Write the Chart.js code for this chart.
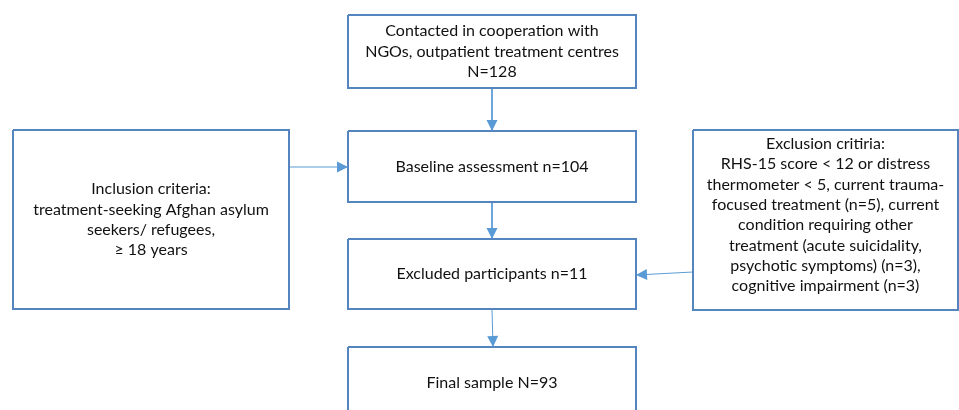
<!DOCTYPE html>
<html>
<head>
<meta charset="utf-8">
<script src="https://cdn.jsdelivr.net/npm/chart.js@4"></script>
<style>
  html, body { margin: 0; padding: 0; background: #ffffff; }
  #wrap { width: 959px; height: 410px; }
</style>
</head>
<body>
<div id="wrap"><canvas id="flow"></canvas></div>
<script>
// flow data
const stepTitles = ['Contacted in cooperation with\nNGOs, outpatient treatment centres', 'Baseline assessment', 'Excluded participants', 'Final sample'];
const stepPrefix = ['N', 'n', 'n', 'N'];
const stepCounts = [128, 104, 11, 93];
const exclusionCounts = [5, 3, 3];
const minAge = 18;

// box text
const labels = [
    `${stepTitles[0]}\n${stepPrefix[0]}=${stepCounts[0]}`,
    `${stepTitles[1]} ${stepPrefix[1]}=${stepCounts[1]}`,
    `${stepTitles[2]} ${stepPrefix[2]}=${stepCounts[2]}`,
    `${stepTitles[3]} ${stepPrefix[3]}=${stepCounts[3]}`,
    `Inclusion criteria:\ntreatment-seeking Afghan asylum\nseekers/ refugees,\n\u2265 ${minAge} years`,
    `Exclusion critiria:\nRHS-15 score < 12 or distress\nthermometer < 5, current trauma-\nfocused treatment (n=${exclusionCounts[0]}), current\ncondition requiring other\ntreatment (acute suicidality,\npsychotic symptoms) (n=${exclusionCounts[1]}),\ncognitive impairment (n=${exclusionCounts[2]})`
];

// layout (axis units) : x0, x1, y0, y1, text offset
const boxes = [
    [348, 636, 15, 88, 0],
    [348, 636, 131, 202, 0],
    [348, 636, 239, 309, 0],
    [348, 636, 347, 430, -6],
    [13, 289, 130, 309, 0],
    [693, 958, 130, 310, -5]
];
const arrows = [
    [492, 88, 492, 131],
    [289, 167, 348, 167],
    [492, 202, 492, 239],
    [693, 272, 636, 275],
    [492, 309, 493, 347]
];

const boxColor = '#5585be';
const arrowColor = '#5b9bd5';
const textColor = '#111111';

const datasets = [];
boxes.forEach(b => {
    datasets.push({
        type: 'line',
        data: [{x: b[0], y: b[2]}, {x: b[1], y: b[2]}, {x: b[1], y: b[3]}, {x: b[0], y: b[3]}, {x: b[0], y: b[2]}],
        borderColor: boxColor,
        borderWidth: 2,
        pointRadius: 0,
        fill: false,
        tension: 0
    });
});
arrows.forEach(a => {
    datasets.push({
        type: 'line',
        data: [{x: a[0], y: a[1]}, {x: a[2], y: a[3]}],
        borderColor: arrowColor,
        borderWidth: 1,
        pointRadius: 0,
        fill: false
    });
});

const flowPlugin = {
    id: 'flowText',
    afterDatasetsDraw(chart) {
        const ctx = chart.ctx;
        const sx = chart.scales.x, sy = chart.scales.y;
        ctx.save();
        // arrow heads
        ctx.fillStyle = arrowColor;
        arrows.forEach(a => {
            const x1 = sx.getPixelForValue(a[0]), y1 = sy.getPixelForValue(a[1]);
            const x2 = sx.getPixelForValue(a[2]), y2 = sy.getPixelForValue(a[3]);
            const ang = Math.atan2(y2 - y1, x2 - x1);
            const len = 11, half = 5.5;
            ctx.beginPath();
            ctx.moveTo(x2, y2);
            ctx.lineTo(x2 - len * Math.cos(ang) + half * Math.sin(ang), y2 - len * Math.sin(ang) - half * Math.cos(ang));
            ctx.lineTo(x2 - len * Math.cos(ang) - half * Math.sin(ang), y2 - len * Math.sin(ang) + half * Math.cos(ang));
            ctx.closePath();
            ctx.fill();
        });
        // labels
        ctx.fillStyle = textColor;
        ctx.font = '16px Lato, "Open Sans", sans-serif';
        ctx.textAlign = 'center';
        ctx.textBaseline = 'middle';
        const lh = 20.3;
        boxes.forEach((b, i) => {
            const lines = labels[i].split('\n');
            const cx = (sx.getPixelForValue(b[0]) + sx.getPixelForValue(b[1])) / 2;
            const cy = (sy.getPixelForValue(b[2]) + sy.getPixelForValue(b[3])) / 2 + b[4];
            const top = cy - (lines.length - 1) * lh / 2;
            lines.forEach((ln, j) => ctx.fillText(ln, cx, top + j * lh));
        });
        ctx.restore();
    }
};

new Chart(document.getElementById('flow'), {
    type: 'scatter',
    data: { datasets: datasets },
    options: {
        responsive: true,
        maintainAspectRatio: false,
        animation: false,
        layout: { padding: 0 },
        plugins: { legend: { display: false }, tooltip: { enabled: false } },
        scales: {
            x: { type: 'linear', min: 0, max: 959, display: false },
            y: { type: 'linear', min: 0, max: 410, reverse: true, display: false }
        }
    },
    plugins: [flowPlugin]
});
</script>
</body>
</html>
